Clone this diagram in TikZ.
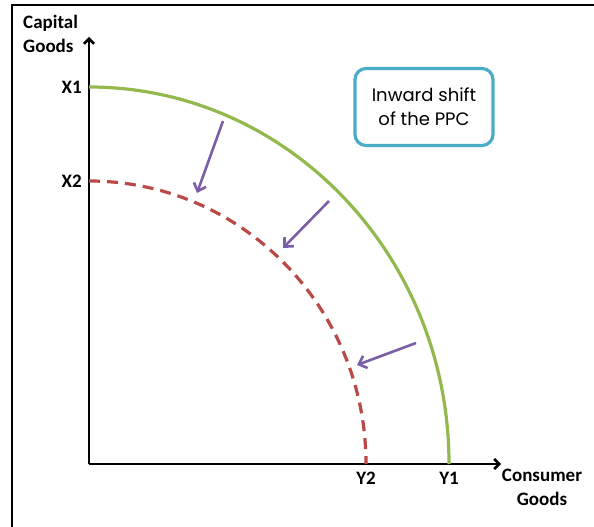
\documentclass[tikz,border=0pt]{standalone}
\usepackage{fontspec}
\setmainfont{Carlito}
\newfontfamily\boxfont{Poppins}
\usepackage{tikz}
\usetikzlibrary{
    arrows.meta,
    positioning
}
\definecolor{ppcgreen}{HTML}{92B84E}
\definecolor{ppcred}{HTML}{B94A48}
\definecolor{ppcpurple}{HTML}{7A5FA8}
\definecolor{ppcteal}{HTML}{4BACC6}

\begin{document}
\begin{tikzpicture}[x=1pt,y=1pt,
    axislabel/.style={font=\fontsize{19}{24}\selectfont\bfseries, inner sep=1pt},
    shiftarrow/.style={ppcpurple, line width=2.6pt, -{Straight Barb[length=7pt,width=13pt]}}]
    \useasboundingbox (0,0) rectangle (594,527);
    \draw[line width=2pt] (12,0) -- (12,522) -- (594,522);

    % axes
    \coordinate (O) at (89,63);
    \coordinate (ytip) at (89,490);
    \coordinate (xtip) at (501,63);
    \draw[line width=2.6pt, -{Straight Barb[length=5pt,width=10pt]}] (O) -- (ytip);
    \draw[line width=2.6pt, -{Straight Barb[length=5pt,width=10pt]}] (O) -- (xtip);

    \coordinate (X1) at (89,440);
    \coordinate (X2) at (89,346);
    \coordinate (Y1) at (449,63);
    \coordinate (Y2) at (366,63);

    % the two curves
    \draw[ppcgreen, line width=3.2pt] (X1) arc[start angle=90, end angle=0, x radius=360pt, y radius=377pt];
    \draw[ppcred, line width=3.2pt, dash pattern=on 11pt off 7pt] (X2) arc[start angle=90, end angle=0, x radius=277pt, y radius=283pt];

    % labels
    \node[axislabel, anchor=north west, align=left] (capital) at (22,513) {Capital\\Goods};
    \node[axislabel, anchor=east] (x1) at (83,440) {X1};
    \node[axislabel, anchor=east] (x2) at (83,346) {X2};
    \node[axislabel, anchor=north] (y1) at (449,56) {Y1};
    \node[axislabel, anchor=north] (y2) at (366,56) {Y2};
    \node[axislabel, anchor=north, align=center] (consumer) at (542,59) {Consumer\\Goods};

    \node[draw=ppcteal, line width=3.2pt, rounded corners=11pt, minimum width=138pt, minimum height=77pt,
          align=center, font=\boxfont\fontsize{18}{24}\selectfont] (note) at (424,420) {Inward shift\\of the PPC};

    % inward arrows
    \coordinate (a1) at (223,406);
    \coordinate (b1) at (197,334);
    \coordinate (a2) at (329,326);
    \coordinate (b2) at (283,279);
    \coordinate (a3) at (416,184);
    \coordinate (b3) at (357,162);
    \draw[shiftarrow] (a1) -- (b1);
    \draw[shiftarrow] (a2) -- (b2);
    \draw[shiftarrow] (a3) -- (b3);
\end{tikzpicture}
\end{document}
